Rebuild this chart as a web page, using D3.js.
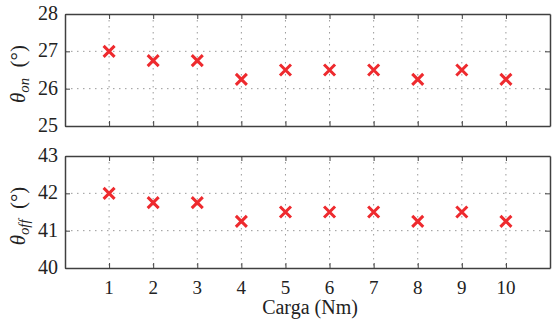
<!DOCTYPE html>
<html>
<head>
<meta charset="utf-8">
<script src="https://cdn.jsdelivr.net/npm/d3@7"></script>
<style>
  body { margin: 0; background: #fff; }
  #chart { position: relative; width: 552px; height: 325px; }
  #chart svg { position: absolute; left: 0; top: 0; }
  .lbl { position: absolute; color: #222; line-height: 1; white-space: nowrap; }
  .lbl sub { font-size: 70%; vertical-align: -0.25em; }
</style>
</head>
<body>
<div id="chart"></div>
<script>
// load values (x axis)
const carga = [1, 2, 3, 4, 5, 6, 7, 8, 9, 10]
// switching angles
const thetaOn = [27, 26.75, 26.75, 26.25, 26.5, 26.5, 26.5, 26.25, 26.5, 26.25]
const thetaOff = [42, 41.75, 41.75, 41.25, 41.5, 41.5, 41.5, 41.25, 41.5, 41.25]
const onTicks = [25, 26, 27, 28]
const offTicks = [40, 41, 42, 43]

const width = 552
const height = 325
const left = 65
const right = 550

const chart = d3.select("#chart")
const svg = chart.append("svg")
    .attr("width", width)
    .attr("height", height)

const xScale = d3.scaleLinear()
    .domain([0, 11])
    .range([left, right])

// html labels, so the serif font is picked up
function label(x, y, html, size, anchor) {
    const d = chart.append("div")
        .attr("class", "lbl")
        .style("left", x + "px")
        .style("top", y + "px")
        .style("font-size", size + "px")
        .style("transform", anchor)
        .html(html)
    d.node().style.setProperty("font-family", "'Liberation Serif', 'Times New Roman', serif", "important")
    return d
}

const panels = [
    { values: thetaOn, ticks: onTicks, top: 14, bottom: 126, sub: "on" },
    { values: thetaOff, ticks: offTicks, top: 156, bottom: 268, sub: "off" }
]

panels.forEach((p, i) => {
    const yScale = d3.scaleLinear()
        .domain([p.ticks[0], p.ticks[p.ticks.length - 1]])
        .range([p.bottom, p.top])

    const g = svg.append("g")

    // dotted grid
    g.append("g").selectAll("line")
        .data(carga)
        .join("line")
        .attr("x1", d => xScale(d)).attr("x2", d => xScale(d))
        .attr("y1", p.top).attr("y2", p.bottom)
        .attr("stroke", "#9a9a9a")
        .attr("stroke-width", 1)
        .attr("stroke-dasharray", "1.5,4.5")
    g.append("g").selectAll("line")
        .data(p.ticks.slice(1, -1))
        .join("line")
        .attr("x1", left).attr("x2", right)
        .attr("y1", d => yScale(d)).attr("y2", d => yScale(d))
        .attr("stroke", "#9a9a9a")
        .attr("stroke-width", 1)
        .attr("stroke-dasharray", "1.5,4.5")

    // axes with inward ticks, labels done in html below
    const axes = [
        g.append("g").attr("transform", "translate(0," + p.bottom + ")")
            .call(d3.axisBottom(xScale).tickValues(carga).tickSizeInner(-5).tickSizeOuter(0).tickFormat("")),
        g.append("g").attr("transform", "translate(0," + p.top + ")")
            .call(d3.axisTop(xScale).tickValues(carga).tickSizeInner(-5).tickSizeOuter(0).tickFormat("")),
        g.append("g").attr("transform", "translate(" + left + ",0)")
            .call(d3.axisLeft(yScale).tickValues(p.ticks).tickSizeInner(-5).tickSizeOuter(0).tickFormat("")),
        g.append("g").attr("transform", "translate(" + right + ",0)")
            .call(d3.axisRight(yScale).tickValues(p.ticks).tickSizeInner(-5).tickSizeOuter(0).tickFormat(""))
    ]
    axes.forEach(a => {
        a.select(".domain").attr("stroke", "#404040").attr("stroke-width", 1.5)
        a.selectAll(".tick line").attr("stroke", "#404040").attr("stroke-width", 1)
    })

    p.ticks.forEach(t => label(left - 7, yScale(t) - 1, t, 20, "translate(-100%,-50%)"))
    if (i === 1) {
        carga.forEach(c => label(xScale(c), 286.5, c, 19, "translate(-50%,-50%)"))
    }

    // markers
    const s = 5.5
    g.append("g").selectAll("path")
        .data(carga.map((c, j) => [c, p.values[j]]))
        .join("path")
        .attr("d", d => {
            const cx = xScale(d[0]), cy = yScale(d[1])
            return "M" + (cx - s) + "," + (cy - s) + "L" + (cx + s) + "," + (cy + s) +
                   "M" + (cx - s) + "," + (cy + s) + "L" + (cx + s) + "," + (cy - s)
        })
        .attr("stroke", "#ee2a2e")
        .attr("stroke-width", 3)
        .attr("fill", "none")

    // y label, rotated
    const cy = (p.top + p.bottom) / 2 + 4
    label(20, cy, "<i>θ</i><sub><i>" + p.sub + "</i></sub>&ensp;(°)", 21,
        "translate(-50%,-50%) rotate(-90deg)")
})

label(310, 306.5, "Carga (Nm)", 20, "translate(-50%,-50%)")
</script>
</body>
</html>
